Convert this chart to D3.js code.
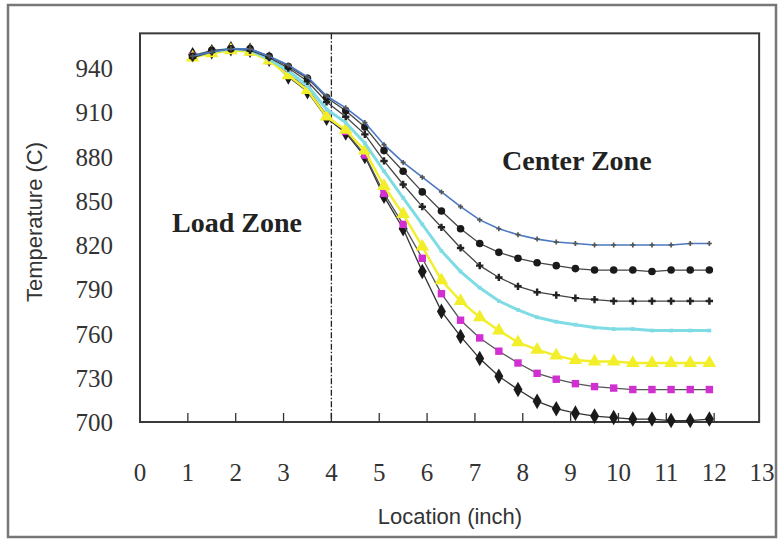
<!DOCTYPE html>
<html>
<head>
<meta charset="utf-8">
<script src="https://cdn.jsdelivr.net/npm/d3@7"></script>
<style>
  body { margin: 0; background: #fff; }
  svg { display: block; }
</style>
</head>
<body>
<div id="chart"></div>
<script>
const width = 780, height = 541;

// location (inch) of each reading
const locs = [1.1, 1.5, 1.9, 2.3, 2.7, 3.1, 3.5, 3.9, 4.3, 4.7, 5.1, 5.5, 5.9, 6.3,
              6.7, 7.1, 7.5, 7.9, 8.3, 8.7, 9.1, 9.5, 9.9, 10.3, 10.7, 11.1, 11.5, 11.9];

const tBlue    = [948, 951, 953, 953, 948, 942, 934, 921, 913, 903, 888, 876, 866, 856,
                  846, 837, 831, 827, 824, 822, 821, 820, 820, 820, 820, 820, 821, 821];
const tCircle  = [948, 952, 953, 953, 948, 941, 933, 920, 911, 900, 884, 870, 856, 843,
                  831, 821, 815, 811, 808, 806, 804, 803, 803, 803, 802, 803, 803, 803];
const tStar    = [947, 951, 953, 952, 947, 940, 931, 917, 907, 895, 877, 861, 846, 832,
                  818, 806, 798, 792, 788, 786, 784, 783, 782, 782, 782, 782, 782, 782];
const tCyan    = [948, 951, 953, 952, 946, 938, 928, 912, 903, 889, 870, 852, 834, 816,
                  802, 791, 782, 776, 771, 768, 766, 764, 763, 763, 762, 762, 762, 762];
const tYellow  = [947, 950, 952, 951, 945, 935, 925, 907, 898, 884, 860, 841, 819, 796,
                  782, 771, 762, 754, 749, 745, 742, 741, 741, 740, 740, 740, 740, 740];
const tMagenta = [948, 950, 952, 951, 945, 936, 926, 908, 897, 881, 855, 834, 811, 787,
                  769, 757, 748, 740, 733, 729, 726, 724, 723, 722, 722, 722, 722, 722];
const tDiamond = [949, 951, 953, 952, 946, 934, 924, 906, 896, 880, 853, 831, 802, 775,
                  758, 743, 731, 722, 714, 709, 706, 704, 703, 702, 702, 701, 701, 702];

const xTicks = d3.range(0, 14);
const yTicks = [700, 730, 760, 790, 820, 850, 880, 910, 940];

const x = d3.scaleLinear().domain([0, 13]).range([140, 762]);
const y = d3.scaleLinear().domain([700, 940]).range([422, 68]);

const svg = d3.select("#chart").append("svg")
  .attr("width", width)
  .attr("height", height);

// outer frame
svg.append("rect")
  .attr("x", 8).attr("y", 5)
  .attr("width", 768).attr("height", 532)
  .style("fill", "#fff")
  .style("stroke", "#777")
  .style("stroke-width", 2.5);

// plot box
const plotTop = y(963.5);
svg.append("rect")
  .attr("x", x(0)).attr("y", plotTop)
  .attr("width", x(12.94) - x(0)).attr("height", y(700) - plotTop)
  .style("fill", "#fff")
  .style("stroke", "#3a3a3a")
  .style("stroke-width", 2);

// inner ticks on x axis
svg.selectAll(".xtick")
  .data(xTicks.filter(d => d > 0 && d < 13))
  .enter().append("line")
  .attr("x1", d => x(d)).attr("x2", d => x(d))
  .attr("y1", y(700)).attr("y2", y(700) - 9)
  .style("stroke", "#333")
  .style("stroke-width", 1.3);

// tick labels
svg.selectAll(".xlab")
  .data(xTicks)
  .enter().append("text")
  .attr("x", d => x(d))
  .attr("y", 481)
  .attr("text-anchor", "middle")
  .style("font-family", "Liberation Serif, serif")
  .style("font-size", "25px")
  .style("fill", "#333")
  .text(d => d);

svg.selectAll(".ylab")
  .data(yTicks)
  .enter().append("text")
  .attr("x", 113)
  .attr("y", d => y(d) + 9)
  .attr("text-anchor", "end")
  .style("font-family", "Liberation Serif, serif")
  .style("font-size", "25px")
  .style("fill", "#333")
  .text(d => d);

// axis titles
svg.append("text")
  .attr("transform", "translate(42," + 222 + ") rotate(-90)")
  .attr("text-anchor", "middle")
  .style("font-family", "Liberation Sans, sans-serif")
  .style("font-size", "22px")
  .style("fill", "#333")
  .text("Temperature (C)");

svg.append("text")
  .attr("x", 450).attr("y", 524)
  .attr("text-anchor", "middle")
  .style("font-family", "Liberation Sans, sans-serif")
  .style("font-size", "22px")
  .style("fill", "#333")
  .text("Location (inch)");

// zone divider
svg.append("line")
  .attr("x1", x(4)).attr("x2", x(4))
  .attr("y1", plotTop).attr("y2", y(700))
  .style("stroke", "#222")
  .style("stroke-width", 1.3)
  .style("stroke-dasharray", "6,2,1.5,2");

svg.append("text")
  .attr("x", 172).attr("y", 232)
  .style("font-family", "Liberation Serif, serif")
  .style("font-weight", "bold")
  .style("font-size", "28px")
  .style("fill", "#222")
  .text("Load Zone");

svg.append("text")
  .attr("x", 502).attr("y", 170)
  .style("font-family", "Liberation Serif, serif")
  .style("font-weight", "bold")
  .style("font-size", "28px")
  .style("fill", "#222")
  .text("Center Zone");

const series = [
  { vals: tDiamond, line: "#333", lw: 1.3, sym: d3.symbolDiamond, size: 70, fill: "#1a1a1a" },
  { vals: tMagenta, line: "#555", lw: 1.3, sym: d3.symbolSquare, size: 55, fill: "#d22fd2" },
  { vals: tYellow, line: "#f2ef2a", lw: 2.4, sym: d3.symbolTriangle, size: 80, fill: "#f2ef2a" },
  { vals: tCyan, line: "#7fdbe4", lw: 3, sym: d3.symbolSquare, size: 14, fill: "#7fdbe4" },
  { vals: tStar, line: "#444", lw: 1.3, sym: d3.symbolCross, size: 30, fill: "#222" },
  { vals: tCircle, line: "#444", lw: 1.3, sym: d3.symbolCircle, size: 45, fill: "#1a1a1a" },
  { vals: tBlue, line: "#4b78c2", lw: 1.6, sym: d3.symbolCross, size: 14, fill: "#555" }
];

const line = d3.line()
  .x((d, i) => x(locs[i]))
  .y(d => y(d));

series.forEach(s => {
  svg.append("path")
    .attr("d", line(s.vals))
    .style("fill", "none")
    .style("stroke", s.line)
    .style("stroke-width", s.lw);
  svg.selectAll(null)
    .data(s.vals)
    .enter().append("path")
    .attr("transform", (d, i) => "translate(" + x(locs[i]) + "," + y(d) + ")")
    .attr("d", d3.symbol().type(s.sym).size(s.size))
    .style("fill", s.fill);
});
</script>
</body>
</html>
